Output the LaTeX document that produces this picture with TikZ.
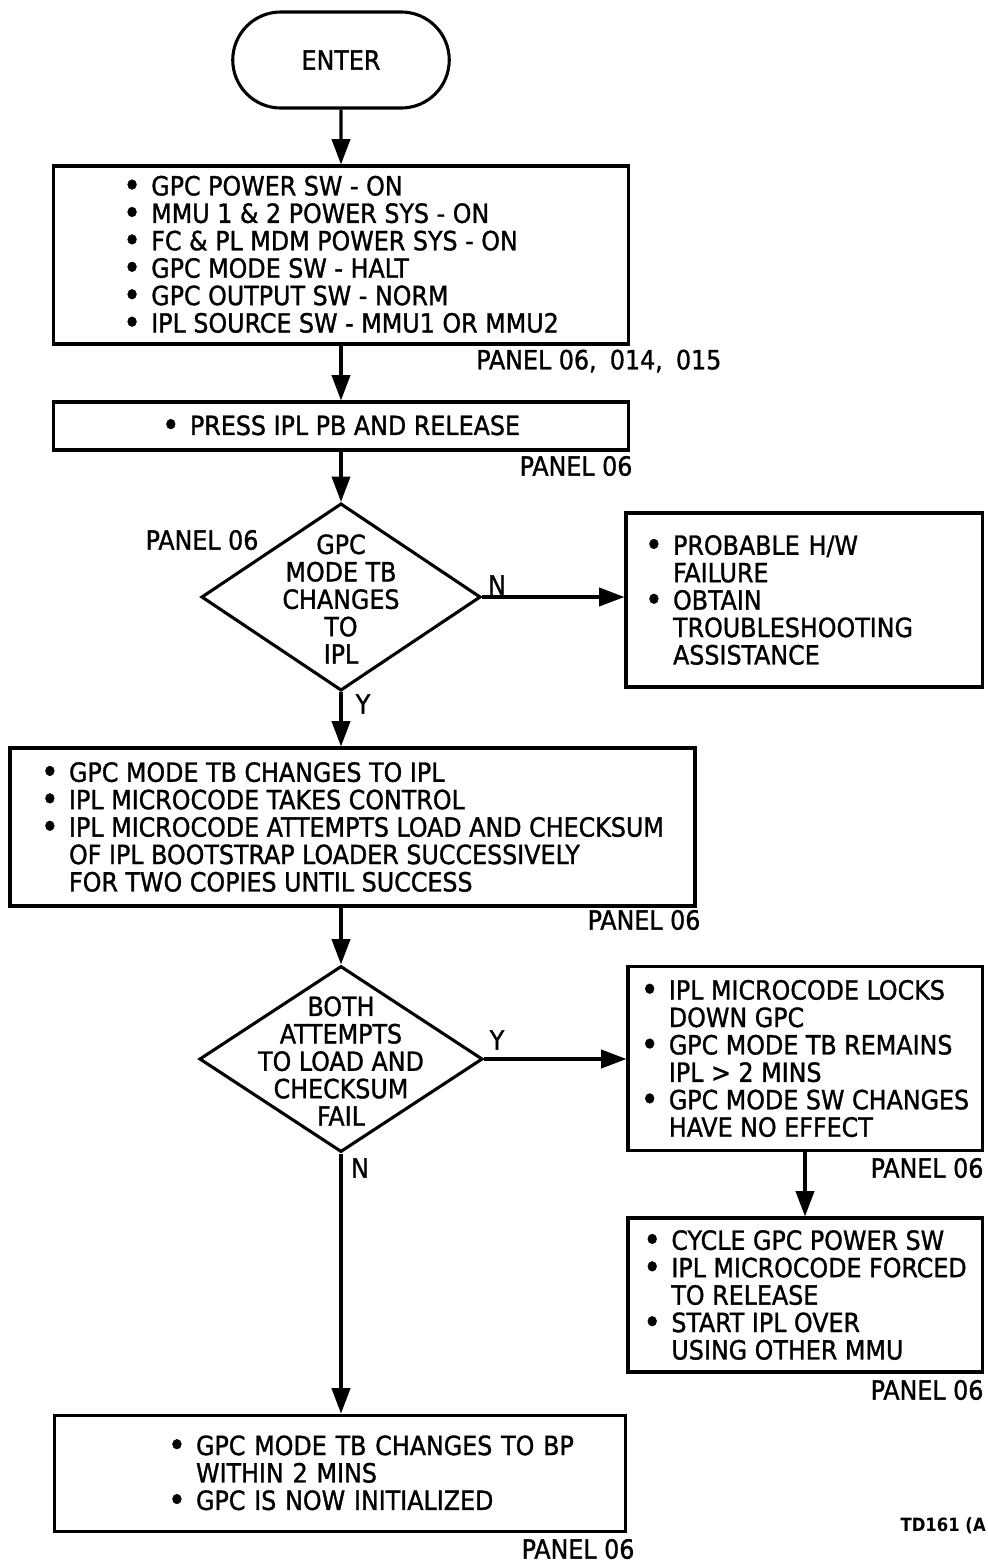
\documentclass[tikz,border=0pt]{standalone}
\usepackage{fontspec}
\setmainfont{DejaVu Sans Condensed}[UprightFeatures={FakeBold=1.2}]
\usetikzlibrary{arrows.meta,shapes.geometric,shapes.misc}
\newcommand{\dotitem}{\makebox[10pt][l]{\raisebox{-0.6pt}{\fontsize{12}{0}\selectfont\textbullet}}}
\newcommand{\dotcont}{\hspace*{10pt}}
\begin{document}
\begin{tikzpicture}
	[x=0.0125cm,y=-0.0125cm,
	 every node/.style={font=\fontsize{9.4}{9.75}\selectfont},
	 start/.style={draw,line width=1.1pt,rounded rectangle,minimum width=2.94cm,minimum height=1.2cm},
	 box/.style={draw,line width=1.1pt,align=left,inner sep=0pt},
	 decide/.style={draw,line width=1.1pt,diamond,inner sep=0pt},
	 panel/.style={anchor=east,inner sep=0pt},
	 flow/.style={line width=1.1pt,-{Triangle[length=9pt,width=6.5pt]}}]
    \useasboundingbox (0,0) rectangle (988,1564);
    \node[start] at (341,60) (enter) {ENTER};
    \node[box,minimum width=7.19cm,minimum height=2.225cm] at (341,255) (power)
      {\dotitem GPC POWER SW - ON\\
       \dotitem MMU 1 \& 2 POWER SYS - ON\\
       \dotitem FC \& PL MDM POWER SYS - ON\\
       \dotitem GPC MODE SW - HALT\\
       \dotitem GPC OUTPUT SW - NORM\\
       \dotitem IPL SOURCE SW - MMU1 OR MMU2};
    \node[panel] at (722,361) (pnlpower) {PANEL 06,\enspace 014,\enspace 015};
    \node[box,minimum width=7.19cm,minimum height=0.6cm] at (341,426) (press)
      {\dotitem PRESS IPL PB AND RELEASE};
    \node[panel] at (633,466) (pnlpress) {PANEL 06};
    \node[decide,minimum width=3.49cm,minimum height=2.34cm] at (341,597) (gpc) {};
    \node[align=center] at (341,599) (gpctext) {GPC\\MODE TB\\CHANGES\\TO\\IPL};
    \node[panel] at (259,540) (pnlgpc) {PANEL 06};
    \node[box,minimum width=4.45cm,minimum height=2.175cm,text width=3.975cm] at (804,600) (fail)
      {\dotitem PROBABLE H/W\\
       \dotcont FAILURE\\
       \dotitem OBTAIN\\
       \dotcont TROUBLESHOOTING\\
       \dotcont ASSISTANCE};
    \node[box,minimum width=8.56cm,minimum height=1.975cm] at (352.5,827) (micro)
      {\dotitem GPC MODE TB CHANGES TO IPL\\
       \dotitem IPL MICROCODE TAKES CONTROL\\
       \dotitem IPL MICROCODE ATTEMPTS LOAD AND CHECKSUM\\
       \dotcont OF IPL BOOTSTRAP LOADER SUCCESSIVELY\\
       \dotcont FOR TWO COPIES UNTIL SUCCESS};
    \node[panel] at (701,920) (pnlmicro) {PANEL 06};
    \node[decide,minimum width=3.54cm,minimum height=2.325cm] at (341,1059) (both) {};
    \node[align=center] at (341,1061) (bothtext) {BOTH\\ATTEMPTS\\TO LOAD AND\\CHECKSUM\\FAIL};
    \node[box,minimum width=4.425cm,minimum height=2.29cm] at (805,1058.5) (locks)
      {\dotitem IPL MICROCODE LOCKS\\
       \dotcont DOWN GPC\\
       \dotitem GPC MODE TB REMAINS\\
       \dotcont IPL > 2 MINS\\
       \dotitem GPC MODE SW CHANGES\\
       \dotcont HAVE NO EFFECT};
    \node[panel] at (984,1168) (pnllocks) {PANEL 06};
    \node[box,minimum width=4.425cm,minimum height=1.925cm] at (805,1295) (cycle)
      {\dotitem CYCLE GPC POWER SW\\
       \dotitem IPL MICROCODE FORCED\\
       \dotcont TO RELEASE\\
       \dotitem START IPL OVER\\
       \dotcont USING OTHER MMU};
    \node[panel] at (984,1390) (pnlcycle) {PANEL 06};
    \node[box,minimum width=7.125cm,minimum height=1.46cm,text width=4.3cm] at (340,1473.5) (done)
      {\mbox{\dotitem GPC MODE TB CHANGES TO BP}\\
       \dotcont WITHIN 2 MINS\\
       \mbox{\dotitem GPC IS NOW INITIALIZED}};
    \node[panel] at (635,1549) (pnldone) {PANEL 06};
    \node[anchor=west,inner sep=0pt,font=\bfseries\fontsize{6.5}{7}\selectfont] at (900,1526) (tag) {TD161 (A};
    % connectors
    \draw[flow] (enter) -- (power);
    \draw[flow] (power) -- (press);
    \draw[flow] (press) -- (gpc);
    \draw[flow] (gpc.east) -- (gpc.east -| fail.west);
    \draw[flow] (gpc.south) -- (gpc.south |- micro.north);
    \draw[flow] (both.north |- micro.south) -- (both.north);
    \draw[flow] (both.east) -- (both.east -| locks.west);
    \draw[flow] (locks) -- (cycle);
    \draw[flow] (both.south) -- (both.south |- done.north);
    \node at (497,585) (gpcno) {N};
    \node at (363,704) (gpcyes) {Y};
    \node at (497,1040) (bothyes) {Y};
    \node at (360,1168) (bothno) {N};
\end{tikzpicture}
\end{document}
